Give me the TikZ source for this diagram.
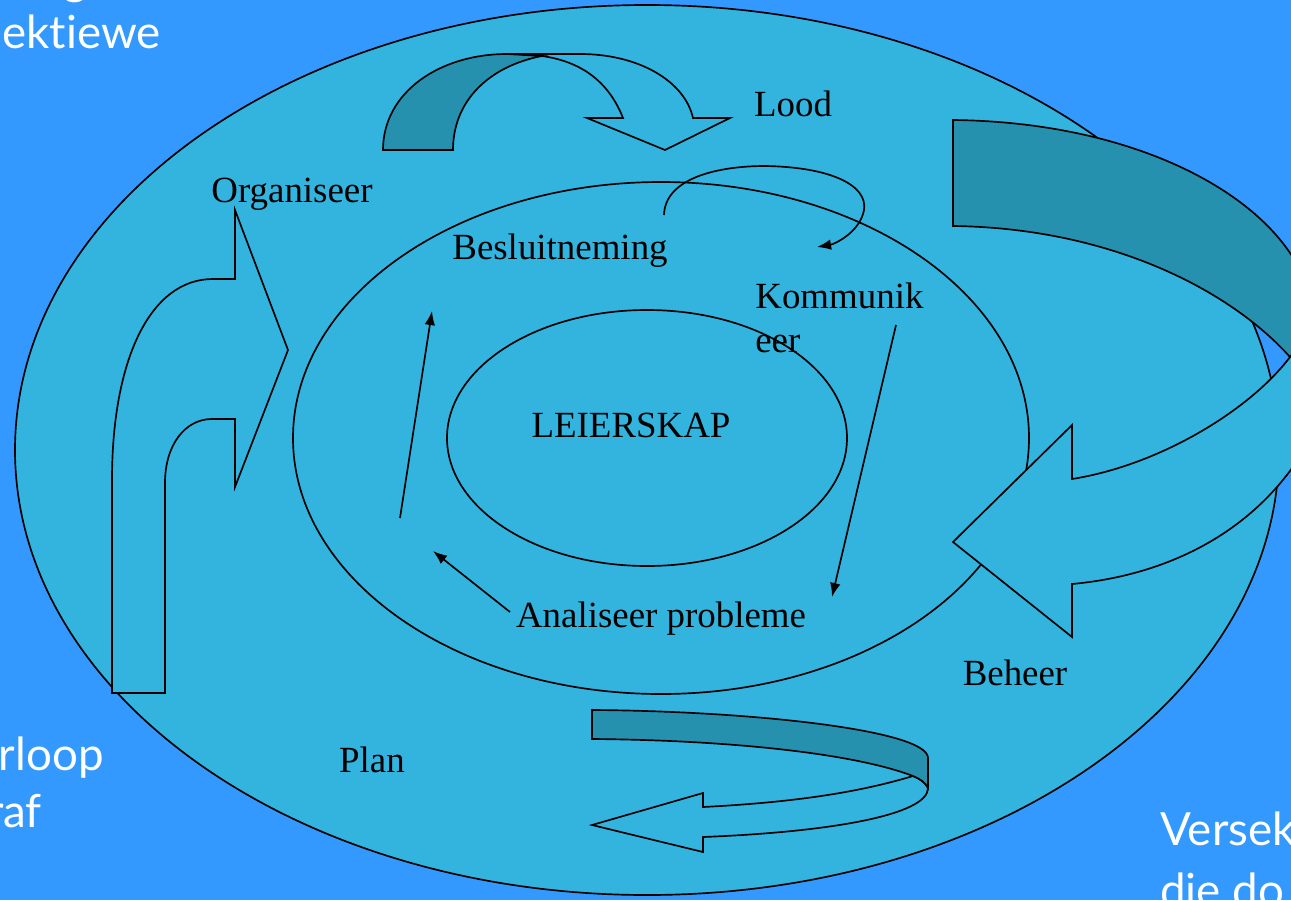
\documentclass[tikz,border=0pt]{standalone}
\usepackage{fontspec}
\setmainfont{Liberation Serif}
\newfontfamily\slidefont[Ligatures=NoCommon]{Lato}
\usetikzlibrary{arrows.meta}
\definecolor{slideblue}{RGB}{51,153,255}
\definecolor{ringcyan}{RGB}{50,180,222}
\definecolor{ribbondark}{RGB}{38,145,175}
\begin{document}
\begin{tikzpicture}[x=0.02cm, y=-0.02cm,
  ringfill/.style={draw=black, line width=0.95pt, fill=ringcyan},
  ribbonlight/.style={draw=black, line width=0.95pt, fill=ringcyan, line join=miter},
  ribbonback/.style={ribbonlight, fill=ribbondark},
  caption/.style={font=\fontsize{21}{25}\selectfont, text=black, inner sep=0pt},
  slidetext/.style={font=\slidefont\fontsize{26}{34}\selectfont, text=white, inner sep=0pt},
  cue/.style={draw=black, line width=0.95pt, -{Latex[length=8pt,width=6pt]}}]
  \clip (0,0) rectangle (1291,900);
  \fill [slideblue] (0,0) rectangle (1291,900);
  % slide text behind the diagram
  \node [slidetext, anchor=base] (topline) at (75,-6) {g};
  \node [slidetext, anchor=base east] (perspektiewe) at (161,48) {ektiewe};
  \node [slidetext, anchor=base east] (verloop) at (104,770) {rloop};
  \node [slidetext, anchor=base east] (grafiek) at (42,827) {raf};
  \node [slidetext, anchor=base west] (versekering) at (1160,845) {Versek};
  \node [slidetext, anchor=base west] (doel) at (1160,906) {die do};
  % the three rings
  \draw [ringfill] (647,450) ellipse [x radius=632, y radius=445];
  \draw [ringfill] (661,438) ellipse [x radius=368, y radius=256];
  \draw [ringfill] (647,438) ellipse [x radius=200, y radius=128];
  % top ribbon arrow
  \draw [ribbonlight] (507,54) -- (580,54) .. controls (640,54) and (685,82) .. (693,118)
        -- (730,118) -- (665,150) -- (587,118) -- (623,118)
        .. controls (610,85) and (585,62) .. (542,56) -- cycle;
  \draw [ribbonback] (383,150) .. controls (383,92) and (440,54) .. (507,54) -- (542,56)
        .. controls (490,66) and (453,100) .. (453,150) -- cycle;
  % right ribbon arrow
  \draw [ribbonback] (953,120) .. controls (1130,122) and (1260,190) .. (1300,270)
        -- (1300,370) -- (1290,357) .. controls (1230,290) and (1110,228) .. (953,226) -- cycle;
  \draw [ribbonlight] (1310,330) -- (1290,357) .. controls (1250,410) and (1160,465) .. (1072,479)
        -- (1072,425) -- (953,542) -- (1072,637) -- (1072,584)
        .. controls (1170,575) and (1260,530) .. (1310,440) -- cycle;
  % left bent arrow
  \draw [ribbonlight] (112,693) -- (112,480) .. controls (112,360) and (150,279) .. (213,279)
        -- (235,279) -- (235,210) -- (288,350) -- (235,487) -- (235,419) -- (212,419)
        .. controls (185,419) and (165,445) .. (165,483) -- (165,693) -- cycle;
  % bottom ribbon arrow
  \draw [ribbonlight] (913,776) .. controls (850,795) and (780,803) .. (703,807)
        -- (703,793) -- (592,825) -- (703,852) -- (703,837)
        .. controls (830,832) and (928,815) .. (928,788)
        .. controls (925,782) and (920,779) .. (913,776) -- cycle;
  \draw [ribbonback] (592,710) .. controls (750,711) and (928,730) .. (928,758) -- (928,788)
        .. controls (925,782) and (920,779) .. (913,776)
        .. controls (850,752) and (720,740) .. (592,739) -- cycle;
  % labels
  \node [caption, anchor=base] (lood) at (793,116) {Lood};
  \node [caption, anchor=base] (organiseer) at (292,202) {Organiseer};
  \node [caption, anchor=base] (besluit) at (560,259) {Besluitneming};
  \node [caption, anchor=north west, align=left] (kommunikeer) at (755,283) {Kommunik\\eer};
  \node [caption, anchor=base] (leierskap) at (631,437) {LEIERSKAP};
  \node [caption, anchor=base] (analiseer) at (661,627) {Analiseer probleme};
  \node [caption, anchor=base] (beheer) at (1015,685) {Beheer};
  \node [caption, anchor=base] (plan) at (372,772) {Plan};
  % cycle of small arrows
  \coordinate (loopfrom) at (664,215);
  \coordinate (loopto) at (817,247);
  \coordinate (kfrom) at (896,325);
  \coordinate (kto) at (832,597);
  \coordinate (afrom) at (510,612);
  \coordinate (ato) at (433,551);
  \coordinate (pfrom) at (400,518);
  \coordinate (pto) at (432,311);
  \draw [cue] (loopfrom) .. controls (665,178) and (718,166) .. (765,166)
        .. controls (830,167) and (868,185) .. (864,210)
        .. controls (860,232) and (835,244) .. (loopto);
  \draw [cue] (kfrom) -- (kto);
  \draw [cue] (afrom) -- (ato);
  \draw [cue] (pfrom) -- (pto);
\end{tikzpicture}
\end{document}
